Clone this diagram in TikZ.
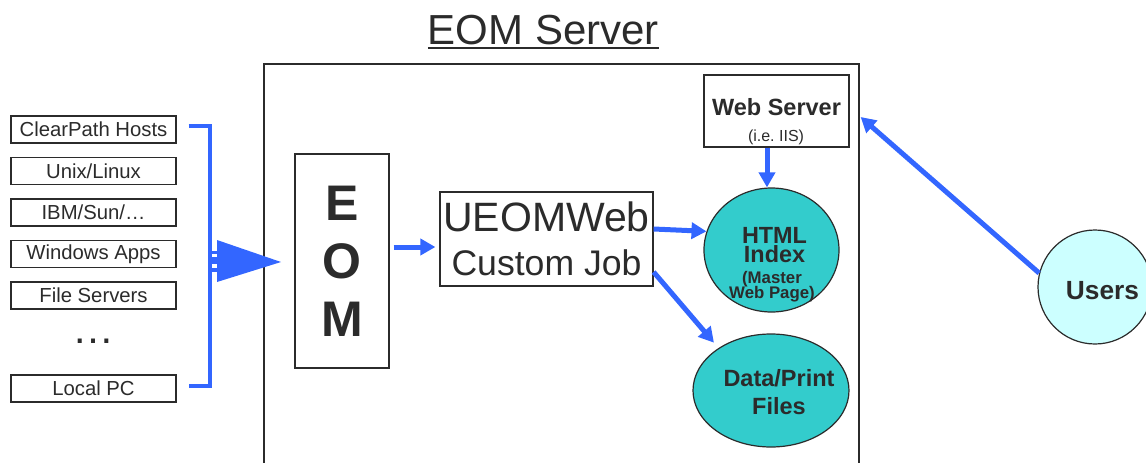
\documentclass[tikz,border=0pt]{standalone}
\usepackage{fontspec}
\setmainfont{Liberation Sans}
\usetikzlibrary{positioning,shapes.geometric,arrows.meta}
\definecolor{flowblue}{HTML}{3366FF}
\definecolor{tealfill}{HTML}{33CCCC}
\definecolor{userfill}{HTML}{CCFFFF}
\definecolor{ink}{HTML}{2B2B2B}
\newcommand{\fsz}[2]{\fontsize{#1}{#2}\selectfont\lineskiplimit=-50pt\relax}

\begin{document}
\begin{tikzpicture}[x=1pt, y=-1pt, node distance=41.5pt, text=ink,
  src/.style = {draw=ink, line width=1.2pt, minimum width=165pt, minimum height=27pt, inner sep=0pt, font=\fsz{20.3}{24}},
  box/.style = {draw=ink, line width=1.2pt, inner sep=0pt, align=center},
  blob/.style = {draw=ink, line width=1.2pt, ellipse, fill=tealfill, inner sep=0pt},
  txt/.style = {inner sep=0pt, align=center},
  flow/.style = {draw=flowblue, line width=5pt, -{Triangle[length=15pt,width=16pt]}}]
\useasboundingbox (0,0) rectangle (1146,463);
\node[anchor=base, inner sep=0pt, font=\fsz{42}{50}] (title) at (543.5,44) {EOM Server};
\draw[ink, line width=2pt] ([yshift=-4pt]title.base west) -- ([yshift=-4pt]title.base east);
\draw[ink, line width=1.3pt] (264,64) rectangle (859,480);
\node[src] (cp) at (93.5,129.5) {ClearPath Hosts};
\node[src] (ux) [below of=cp] {Unix/Linux};
\node[src] (ibm) [below of=ux] {IBM/Sun/…};
\node[src] (win) [below of=ibm] {Windows Apps};
\node[src] (fsv) [below of=win] {File Servers};
\node[inner sep=0pt, font=\fsz{42}{42}] (dots) [below of=fsv, yshift=-4pt] {…};
\node[src] (pc) [below of=dots, yshift=-6pt] {Local PC};
\coordinate (bt) at (210,126);
\coordinate (bb) at (210,386);
\coordinate (bus) at (210,262);
\draw[flowblue, line width=4pt] ([xshift=12pt]cp.east |- bt) -- (bt) -- (bb) -- ([xshift=12pt]pc.east |- bb);
\foreach \d/\w in {9.7/3.5, 1.7/7, -7.5/4}
  \draw[flowblue, line width=\w pt] ([yshift=\d pt]bus) -- ++(8,0);
\fill[flowblue] (217,240) -- ++(64,22) -- ++(-64,20) -- cycle;
\node[box, minimum width=94pt, minimum height=214pt, font=\fsz{50}{58.2}\bfseries] (eom) at (342,261) {E\\O\\M};
\node[box, minimum width=213pt, minimum height=94pt, font=\fsz{41}{44}] (ueom) at (546.5,239) {UEOMWeb\\\fsz{35.6}{43.7}Custom Job};
\node[box, minimum width=145pt, minimum height=72pt] (web) at (776.5,111) {};
\node[txt, anchor=base, font=\fsz{23.5}{28}\bfseries] (webt) at (776.5,115) {Web Server};
\node[txt, anchor=base, font=\fsz{16}{19}] (iis) at (776,141) {(i.e.\ IIS)};
\node[blob, minimum width=135pt, minimum height=124pt] (html) at (771.5,250) {};
\node[txt, font=\fsz{23.4}{19}\bfseries] (htmlt) at (774.5,245.5) {HTML\\Index};
\node[txt, font=\fsz{16.8}{14.7}\bfseries] (htmls) at (772,286.5) {(Master\\Web Page)};
\node[blob, minimum width=156pt, minimum height=113pt] (data) at (771,390.5) {};
\node[txt, font=\fsz{23.5}{28.3}\bfseries] (datat) at (779,392.3) {Data/Print\\Files};
\node[draw=ink, line width=1.2pt, circle, fill=userfill, minimum size=114pt, inner sep=0pt] (users) at (1095,287) {};
\node[txt, font=\fsz{26.3}{30}\bfseries] (userst) at (1102.5,290.6) {Users};
\draw[flow, shorten <=4pt, shorten >=4pt] ([yshift=14pt]eom.east) -- ([yshift=14pt]eom.east -| ueom.west);
\draw[flow] ([yshift=10pt]ueom.east) -- (html.164);
\draw[flow, shorten >=7pt] ([yshift=-33pt]ueom.east) -- (data.141);
\draw[flow] ([xshift=-9.5pt]web.south) -- ([xshift=-9.5pt]web.south |- html.north);
\draw[flow] (users.166) -- ([xshift=11pt,yshift=-6pt]web.east);
\end{tikzpicture}
\end{document}
